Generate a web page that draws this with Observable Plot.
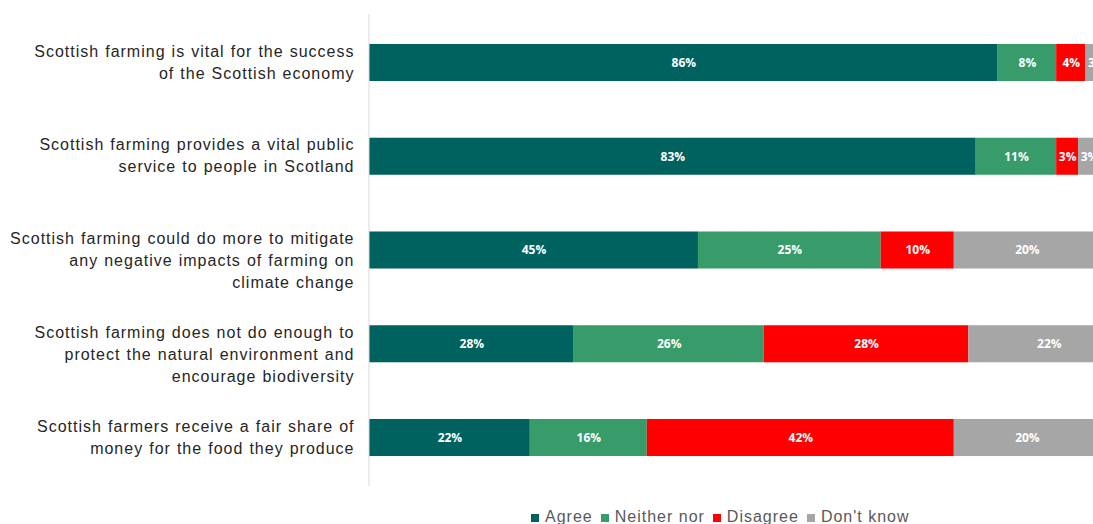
<!DOCTYPE html>
<html>
<head>
<meta charset="utf-8">
<script src="https://cdn.jsdelivr.net/npm/d3@7"></script>
<script src="https://cdn.jsdelivr.net/npm/@observablehq/plot@0.6"></script>
<style>
  html, body { margin: 0; padding: 0; background: #fff; overflow: hidden; }
  #legend { display: flex; align-items: center; margin-left: 531px; margin-top: 18px;
    font-family: "Liberation Sans", Arial, sans-serif; font-size: 16px; color: #595959;
    letter-spacing: 1px; }
  #legend .item { display: flex; align-items: center; margin-right: 8px; }
  #legend .sw { width: 8px; height: 8px; margin-right: 6px; margin-top: 2px; }
</style>
</head>
<body>
<div id="chart"></div>
<div id="legend"></div>
<script>
const statements = [
  "Scottish farming is vital for the success\nof the Scottish economy",
  "Scottish farming provides a vital public\nservice to people in Scotland",
  "Scottish farming could do more to mitigate\nany negative impacts of farming on\nclimate change",
  "Scottish farming does not do enough to\nprotect the natural environment and\nencourage biodiversity",
  "Scottish farmers receive a fair share of\nmoney for the food they produce"
];
const responses = ["Agree", "Neither nor", "Disagree", "Don't know"];
const colors = ["#00625e", "#389b6a", "#ff0000", "#a6a6a6"];
const agree = [86, 83, 45, 28, 22];
const neither = [8, 11, 25, 26, 16];
const disagree = [4, 3, 10, 28, 42];
const dontKnow = [3, 3, 20, 22, 20];

const series = [agree, neither, disagree, dontKnow];
const data = [];
statements.forEach((s, i) => {
  responses.forEach((r, j) => data.push({statement: s, response: r, value: series[j][i]}));
});

const chart = Plot.plot({
  width: 1093,
  height: 490,
  marginLeft: 369,
  marginRight: 0,
  marginTop: 14,
  marginBottom: 4,
  x: {domain: [0, 100], range: [369, 1100], axis: null},
  y: {domain: statements, range: [15.6, 484.4], paddingInner: 0.605, paddingOuter: 0.3025, round: false, axis: null},
  color: {domain: responses, range: colors},
  marks: [
    Plot.barX(data, Plot.stackX({x: "value", y: "statement", fill: "response", order: null})),
    Plot.text(data, Plot.stackX({
      x: "value", y: "statement", z: "response", order: null,
      text: d => d.value + "%",
      fill: "white", fontWeight: "bold", fontSize: 12,
      fontFamily: "'Open Sans', 'DejaVu Sans', sans-serif"
    })),
    Plot.ruleX([0], {stroke: "#d9d9d9", strokeWidth: 1, dx: -0.5}),
    Plot.text(statements, {
      x: () => 0, y: d => d, text: d => d,
      textAnchor: "end", lineAnchor: "top", dx: -15, dy: -22,
      lineHeight: 1.375, fontSize: 16, fill: "#262626",
      fontFamily: "'Liberation Sans', Arial, sans-serif"
    })
  ]
});
chart.style.maxWidth = "none";
d3.select(chart).selectAll("g[font-size='16']")
  .style("letter-spacing", "1px")
  .style("word-spacing", "0.6px");
document.getElementById("chart").appendChild(chart);

const legend = document.getElementById("legend");
responses.forEach((r, i) => {
  const item = document.createElement("div");
  item.className = "item";
  const sw = document.createElement("div");
  sw.className = "sw";
  sw.style.background = colors[i];
  const t = document.createElement("span");
  t.textContent = r;
  item.appendChild(sw);
  item.appendChild(t);
  legend.appendChild(item);
});
</script>
</body>
</html>
